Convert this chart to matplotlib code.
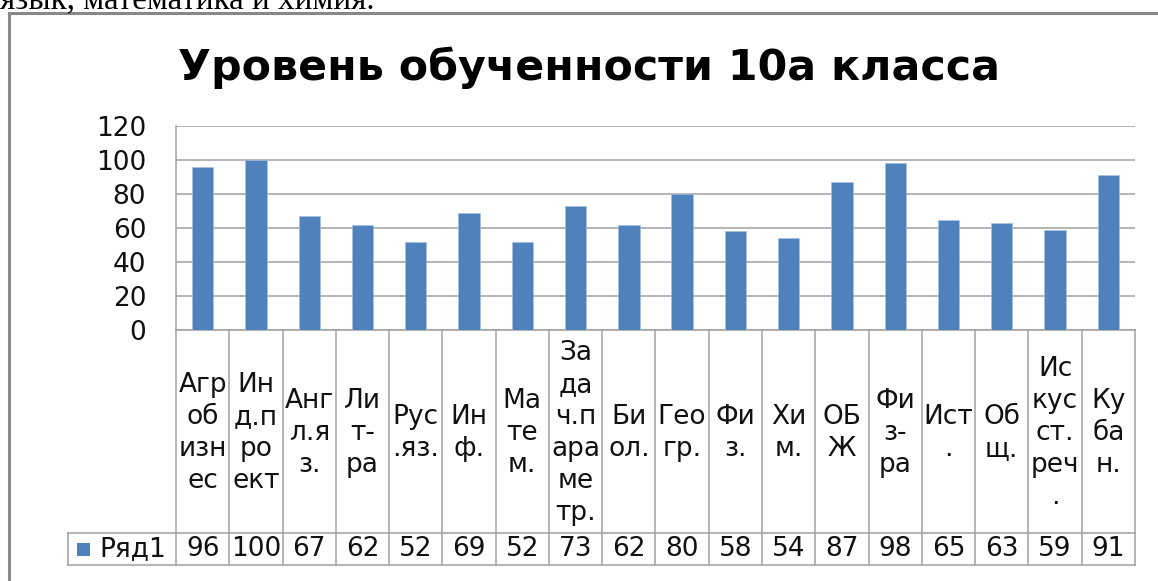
import matplotlib
matplotlib.use("Agg")
import matplotlib.pyplot as plt
from matplotlib.transforms import blended_transform_factory
from matplotlib.lines import Line2D
from matplotlib.patches import Rectangle

# ---- data ----
categories = ["Агр\nоб\nизн\nес", "Ин\nд.п\nро\nект", "Анг\nл.я\nз.", "Ли\nт-\nра",
              "Рус\n.яз.", "Ин\nф.", "Ма\nте\nм.", "За\nда\nч.п\nара\nме\nтр.",
              "Би\nол.", "Гео\nгр.", "Фи\nз.", "Хи\nм.", "ОБ\nЖ", "Фи\nз-\nра",
              "Ист\n.", "Об\nщ.", "Ис\nкус\nст.\nреч\n.", "Ку\nба\nн."]
values = [96, 100, 67, 62, 52, 69, 52, 73, 62, 80, 58, 54, 87, 98, 65, 63, 59, 91]
series_name = "Ряд1"
title = "Уровень обученности 10а класса"
yticks = [0, 20, 40, 60, 80, 100, 120]
doc_text = "язык, математика и химия."

W, H = 1158, 581
BAR = "#4F81BD"
GRID = "#A0A0A0"
FONT = "DejaVu Sans"
FS = 19
TXT = "#111111"

fig = plt.figure(figsize=(W / 100, H / 100), dpi=100)

def fx(px):
    return px / W

def fy(py):
    return 1 - py / H

# plot area: x 176..1135, y 126..330 (pixels from top)
ax = fig.add_axes([fx(176), fy(330), fx(1135) - fx(176), (330 - 126) / H])
x = list(range(len(values)))
ax.bar(x, values, width=0.4, color=BAR, edgecolor="#A9C1E0", linewidth=0.4, zorder=3)
ax.set_xlim(-0.5, len(values) - 0.5)
ax.set_ylim(0, 120)
ax.set_yticks(yticks)
ax.set_yticklabels([str(t) for t in yticks], fontsize=FS, family=FONT, color=TXT)
ax.tick_params(axis="y", length=0, pad=21.5)
ax.set_xticks([])
ax.yaxis.grid(True, color=GRID, linewidth=1.1, zorder=0)
for s in ["top", "right"]:
    ax.spines[s].set_visible(False)
for s in ["left", "bottom"]:
    ax.spines[s].set_color(GRID)
    ax.spines[s].set_linewidth(1.1)
ax.set_facecolor("none")

# data table
tr = blended_transform_factory(ax.transData, fig.transFigure)
y_top, y_mid, y_bot = 330, 533, 565
for i in range(len(values) + 1):
    fig.add_artist(Line2D([i - 0.5, i - 0.5], [fy(y_top), fy(y_bot)], transform=tr,
                          color=GRID, linewidth=1.1))
for yy in (y_mid, y_bot):
    fig.add_artist(Line2D([fx(68), fx(1135)], [fy(yy), fy(yy)], transform=fig.transFigure,
                          color=GRID, linewidth=1.1))
fig.add_artist(Line2D([fx(68), fx(68)], [fy(y_mid), fy(y_bot)], transform=fig.transFigure,
                      color=GRID, linewidth=1.1))

for i, (lab, v) in enumerate(zip(categories, values)):
    fig.text(i, fy((y_top + y_mid) / 2 + 2), lab, transform=tr, ha="center", va="center",
             fontsize=FS, family=FONT, linespacing=1.3, color=TXT)
    fig.text(i, fy((y_mid + y_bot) / 2), str(v), transform=tr, ha="center", va="center",
             fontsize=FS, family=FONT, color=TXT)

# legend key
fig.add_artist(Rectangle((fx(77), fy(556)), fx(13), 13 / H, transform=fig.transFigure,
                         facecolor=BAR, edgecolor="none"))
fig.text(fx(99), fy(549), series_name, ha="left", va="center", fontsize=FS, family=FONT,
         color=TXT)

# title, fitted to width
t = fig.text(fx(589), fy(80), title, ha="center", va="baseline", fontsize=32,
             family=FONT, weight="bold", color="black")
fig.canvas.draw()
bb = t.get_window_extent()
t.set_fontsize(32 * 822 / bb.width)

# document text fragment at top (partly above the page, as in the reference)
d = fig.text(fx(0), fy(8), doc_text, ha="left", va="baseline", fontsize=18,
             family="Liberation Serif", color="black")
fig.canvas.draw()
bb = d.get_window_extent()
d.set_fontsize(18 * 375 / bb.width)

# chart frame (left and top edges visible)
FRAME = "#888888"
fig.add_artist(Line2D([fx(9), fx(9)], [fy(13), fy(600)], transform=fig.transFigure,
                      color=FRAME, linewidth=2.2))
fig.add_artist(Line2D([fx(9), fx(1200)], [fy(13), fy(13)], transform=fig.transFigure,
                      color=FRAME, linewidth=2.2))

fig.savefig("out.png", dpi=100, facecolor="white")
